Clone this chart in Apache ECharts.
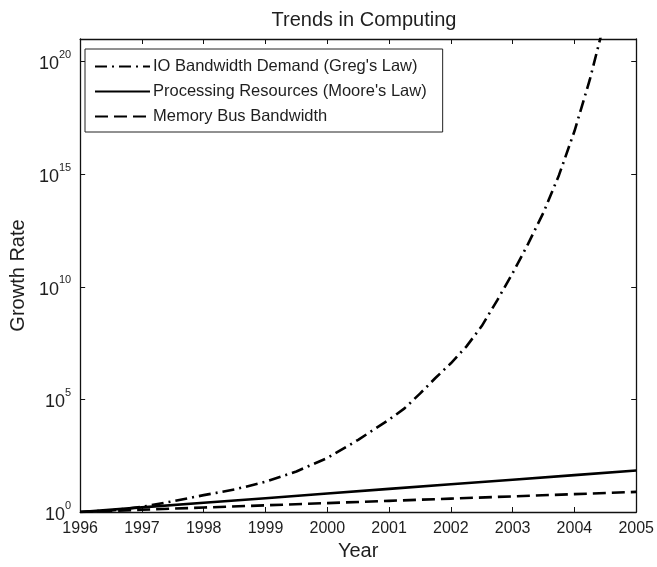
<!DOCTYPE html>
<html>
<head>
<meta charset="utf-8">
<script src="https://cdn.jsdelivr.net/npm/echarts@6/dist/echarts.min.js"></script>
<style>html,body{margin:0;padding:0;background:#fff;}#c{width:657px;height:567px;}</style>
</head>
<body>
<div id="c"></div>
<script>
// ---- data ----
const titleText = 'Trends in Computing';
const xName = 'Year';
const yName = 'Growth Rate';
const seriesNames = ["IO Bandwidth Demand (Greg's Law)", "Processing Resources (Moore's Law)", "Memory Bus Bandwidth"];
const yearTicks = [1996, 1997, 1998, 1999, 2000, 2001, 2002, 2003, 2004, 2005];
const yExpTicks = [0, 5, 10, 15, 20];

const gregYears = [1996, 1996.5, 1997, 1997.5, 1998, 1998.5, 1999, 1999.5, 2000, 2000.5, 2001, 2001.25, 2001.5, 2001.75, 2002, 2002.25, 2002.5, 2002.75, 2003, 2003.25, 2003.5, 2003.75, 2004, 2004.25, 2004.5];
const gregValues = [1, 1.17, 1.7, 3, 5.6, 10, 22, 63, 250, 1600, 1.26e4, 4e4, 1.8e5, 8.9e5, 4e6, 2.2e7, 1.8e8, 2.5e9, 4e10, 8e11, 2e13, 9e14, 8e16, 1.6e19, 8e21];

const mooreYears = [1996, 1997, 1998, 1999, 2000, 2001, 2002, 2003, 2004, 2005];
const mooreValues = [1, 1.6, 2.57, 4.1, 6.6, 10.6, 17, 27, 43.5, 70];

const memYears = [1996, 1997, 1998, 1999, 2000, 2001, 2002, 2003, 2004, 2005];
const memValues = [1, 1.26, 1.58, 1.98, 2.49, 3.13, 3.93, 4.94, 6.2, 7.8];

// ---- chart ----
const FONT = '"Liberation Sans", Arial, Helvetica, sans-serif';
const TXT = '#1e1e1e';
const zip = (xs, ys) => xs.map((x, i) => [x, ys[i]]);

const yLabelFmt = v => {
  const l = Math.log10(v);
  const e = Math.round(l);
  if (Math.abs(l - e) > 1e-6 || yExpTicks.indexOf(e) < 0) return '';
  return '{b|10}{s|' + e + '}';
};

const axisCommon = {
  axisLine: { show: true, lineStyle: { color: '#111', width: 1.3 } },
  axisTick: { show: true, inside: true, length: 5, lineStyle: { color: '#111', width: 1 } },
  splitLine: { show: false }
};

const chart = echarts.init(document.getElementById('c'), null, { renderer: 'canvas' });
chart.setOption({
  backgroundColor: '#fff',
  animation: false,
  color: ['#000', '#000', '#000'],
  textStyle: { fontFamily: FONT, color: TXT },
  title: {
    text: titleText, left: 359, textAlign: 'center', top: 5,
    textStyle: { fontFamily: FONT, fontSize: 20, fontWeight: 'normal', color: TXT }
  },
  grid: { left: 77, right: 16, top: 39, bottom: 55, containLabel: false },
  legend: {
    orient: 'vertical', left: 85, top: 49,
    backgroundColor: '#fff',
    borderColor: '#222', borderWidth: 1,
    padding: [9, 16, 7, 9],
    itemWidth: 55, itemHeight: 16, itemGap: 8,
    itemStyle: { opacity: 0 },
    textStyle: { fontFamily: FONT, fontSize: 16.5, color: TXT, padding: [0, 0, 0, -2] },
    data: seriesNames
  },
  xAxis: [
    Object.assign({}, axisCommon, {
      type: 'value', min: yearTicks[0], max: yearTicks[yearTicks.length - 1], interval: 1,
      position: 'bottom',
      name: xName, nameLocation: 'middle', nameGap: 26,
      nameTextStyle: { fontFamily: FONT, fontSize: 20, color: TXT },
      axisLabel: { margin: 9, fontFamily: FONT, fontSize: 16, color: TXT, formatter: v => String(v) }
    }),
    Object.assign({}, axisCommon, {
      type: 'value', min: yearTicks[0], max: yearTicks[yearTicks.length - 1], interval: 1,
      position: 'top', axisLabel: { show: false }
    })
  ],
  yAxis: [
    Object.assign({}, axisCommon, {
      type: 'log', logBase: 10, min: 1, max: 1e21, interval: 5,
      position: 'left',
      name: yName, nameLocation: 'middle', nameGap: 46, nameRotate: 90,
      nameTextStyle: { fontFamily: FONT, fontSize: 20, color: TXT },
      axisLabel: {
        margin: 9, formatter: yLabelFmt,
        rich: {
          b: { fontFamily: FONT, fontSize: 18, color: TXT, padding: [6, 0, 0, 0] },
          s: { fontFamily: FONT, fontSize: 11, color: TXT, verticalAlign: 'top', padding: [0, 0, 8, 0] }
        }
      }
    }),
    Object.assign({}, axisCommon, {
      type: 'log', logBase: 10, min: 1, max: 1e21, interval: 5,
      position: 'right', axisLabel: { show: false }
    })
  ],
  series: [
    {
      name: seriesNames[0], type: 'line', showSymbol: false, symbol: 'none', clip: true,
      data: zip(gregYears, gregValues),
      itemStyle: { color: '#000' },
      lineStyle: { color: '#000', width: 2.6, type: [12, 5, 2, 5] }
    },
    {
      name: seriesNames[1], type: 'line', showSymbol: false, symbol: 'none', clip: true,
      data: zip(mooreYears, mooreValues),
      itemStyle: { color: '#000' },
      lineStyle: { color: '#000', width: 2.6, type: 'solid' }
    },
    {
      name: seriesNames[2], type: 'line', showSymbol: false, symbol: 'none', clip: true,
      data: zip(memYears, memValues),
      itemStyle: { color: '#000' },
      lineStyle: { color: '#000', width: 2.6, type: [13, 6] }
    }
  ]
});
</script>
</body>
</html>
